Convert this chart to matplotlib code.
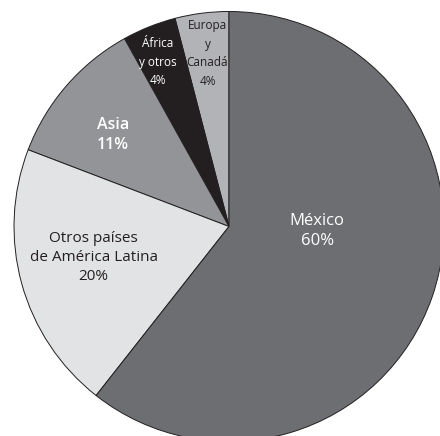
import matplotlib
matplotlib.use("Agg")
import matplotlib.pyplot as plt

# Data (counterclockwise from the top)
labels = ["Europa\ny\nCanadá", "África\ny otros", "Asia", "Otros países\nde América Latina", "México"]
values = [4, 4, 11, 20, 60]
colors = ["#b1b3b6", "#231f20", "#929497", "#e2e3e4", "#6d6e71"]

# label placement and style, per wedge
label_pos = [(-0.10, 0.805), (-0.33, 0.765), (-0.54, 0.425), (-0.63, -0.145), (0.41, -0.02)]
text_colors = ["#231f20", "white", "white", "#231f20", "white"]
text_sizes = [8.5, 8.5, 11.5, 11, 12]
text_weights = ["normal", "normal", "semibold", "normal", "medium"]

plt.rcParams['font.family'] = ['Open Sans', 'DejaVu Sans']

fig = plt.figure(figsize=(4.4, 4.36), dpi=100)
# radius of 215 px, centre at (229, 226.5) from the top-left corner
ax = fig.add_axes([14/440, -5.5/436, 430/440, 430/436])
ax.pie(values, colors=colors, startangle=90, counterclock=True,
       wedgeprops=dict(edgecolor="#231f20", linewidth=0.7))
ax.set_xlim(-1, 1)
ax.set_ylim(-1, 1)

for lab, v, (x, y), c, s, w in zip(labels, values, label_pos, text_colors, text_sizes, text_weights):
    ls = 1.55 if s < 10 else 1.35
    ax.text(x, y, f"{lab}\n{v}%", ha="center", va="center", color=c,
            fontsize=s, fontweight=w, linespacing=ls)

fig.savefig("out.png", dpi=100)
